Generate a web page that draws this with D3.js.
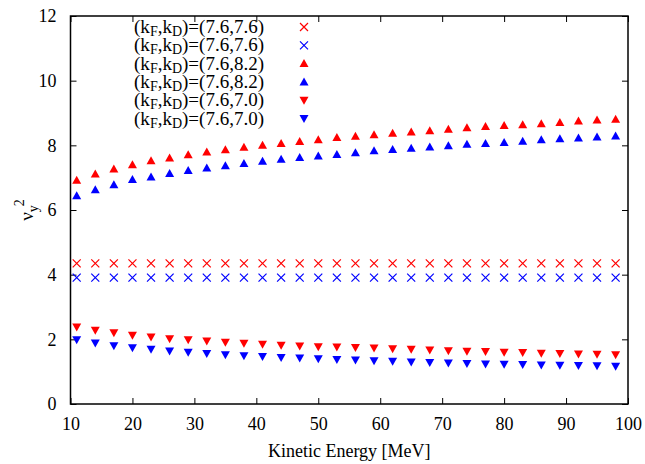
<!DOCTYPE html>
<html>
<head>
<meta charset="utf-8">
<script src="https://cdn.jsdelivr.net/npm/d3@7"></script>
<style>
  body { margin: 0; background: #fff; }
  svg text { font-family: "Liberation Serif", "DejaVu Serif", serif; fill: #000; }
</style>
</head>
<body>
<div id="chart"></div>
<script>
// kinetic energy samples [MeV]
const energy = [11, 14, 17, 20, 23, 26, 29, 32, 35, 38, 41, 44, 47, 50, 53,
                56, 59, 62, 65, 68, 71, 74, 77, 80, 83, 86, 89, 92, 95, 98];

const crossRed  = [4.35, 4.35, 4.35, 4.35, 4.35, 4.35, 4.35, 4.35, 4.35, 4.35, 4.35, 4.35, 4.35, 4.35, 4.35,
                   4.35, 4.35, 4.35, 4.35, 4.35, 4.35, 4.35, 4.35, 4.35, 4.35, 4.35, 4.35, 4.35, 4.35, 4.35];
const crossBlue = [3.91, 3.91, 3.91, 3.91, 3.91, 3.91, 3.91, 3.91, 3.91, 3.91, 3.91, 3.91, 3.91, 3.91, 3.91,
                   3.91, 3.91, 3.91, 3.91, 3.91, 3.91, 3.91, 3.91, 3.91, 3.91, 3.91, 3.91, 3.91, 3.91, 3.91];
const upRed  = [6.92, 7.11, 7.27, 7.40, 7.52, 7.61, 7.71, 7.79, 7.86, 7.94, 8.00, 8.06, 8.12, 8.17, 8.24,
                8.28, 8.33, 8.37, 8.41, 8.45, 8.50, 8.54, 8.58, 8.61, 8.64, 8.67, 8.71, 8.75, 8.78, 8.81];
const upBlue = [6.44, 6.63, 6.78, 6.94, 7.02, 7.13, 7.22, 7.30, 7.37, 7.44, 7.51, 7.57, 7.62, 7.67, 7.72,
                7.77, 7.83, 7.87, 7.91, 7.95, 7.99, 8.03, 8.06, 8.09, 8.13, 8.17, 8.20, 8.23, 8.26, 8.29];
const downRed  = [2.38, 2.28, 2.20, 2.13, 2.07, 2.02, 1.99, 1.95, 1.91, 1.88, 1.85, 1.82, 1.79, 1.77, 1.76,
                  1.75, 1.73, 1.71, 1.69, 1.67, 1.65, 1.63, 1.62, 1.60, 1.59, 1.57, 1.56, 1.55, 1.54, 1.52];
const downBlue = [1.99, 1.89, 1.80, 1.74, 1.69, 1.64, 1.60, 1.56, 1.52, 1.49, 1.47, 1.44, 1.42, 1.40, 1.38,
                  1.36, 1.34, 1.32, 1.30, 1.28, 1.27, 1.25, 1.24, 1.23, 1.22, 1.21, 1.20, 1.19, 1.18, 1.17];

const legendLabels = ["(7.6,7.6)", "(7.6,7.6)", "(7.6,8.2)", "(7.6,8.2)", "(7.6,7.0)", "(7.6,7.0)"];
const xTicks = [10, 20, 30, 40, 50, 60, 70, 80, 90, 100];
const yTicks = [0, 2, 4, 6, 8, 10, 12];

const series = [
    { values: crossRed,  color: "#ff0000", shape: "cross" },
    { values: crossBlue, color: "#0000ff", shape: "cross" },
    { values: upRed,     color: "#ff0000", shape: "up" },
    { values: upBlue,    color: "#0000ff", shape: "up" },
    { values: downRed,   color: "#ff0000", shape: "down" },
    { values: downBlue,  color: "#0000ff", shape: "down" }
];

const width = 645, height = 464;
const margin = { left: 70.5, right: 17, top: 16, bottom: 60 };
const serif = "Liberation Serif";

const svg = d3.select("#chart").append("svg")
    .attr("width", width).attr("height", height);

const x = d3.scaleLinear().domain([10, 100]).range([margin.left, width - margin.right]);
const y = d3.scaleLinear().domain([0, 12]).range([height - margin.bottom, margin.top]);

// ticks, mirrored inward on all four sides
const tickLen = 6;
const axes = svg.append("g");
axes.append("g").attr("transform", `translate(0,${y(0)})`)
    .call(d3.axisBottom(x).tickValues(xTicks).tickSizeInner(-tickLen).tickSizeOuter(0).tickPadding(13));
axes.append("g").attr("transform", `translate(0,${y(12)})`)
    .call(d3.axisTop(x).tickValues(xTicks).tickSizeInner(-tickLen).tickSizeOuter(0).tickFormat(""));
axes.append("g").attr("transform", `translate(${x(10)},0)`)
    .call(d3.axisLeft(y).tickValues(yTicks).tickSizeInner(-tickLen).tickSizeOuter(0).tickPadding(14));
axes.append("g").attr("transform", `translate(${x(100)},0)`)
    .call(d3.axisRight(y).tickValues(yTicks).tickSizeInner(-tickLen).tickSizeOuter(0).tickFormat(""));
axes.selectAll("g").attr("font-family", serif).attr("font-size", 18);
axes.selectAll(".domain").remove();
axes.selectAll(".tick line").attr("stroke", "#000").attr("stroke-width", 1);
axes.selectAll(".tick text").attr("font-family", serif).attr("fill", "#000");

svg.append("rect")
    .attr("x", x(10)).attr("y", y(12))
    .attr("width", x(100) - x(10)).attr("height", y(0) - y(12))
    .attr("fill", "none").attr("stroke", "#000").attr("stroke-width", 1.5);

// marker shapes
function marker(sel, shape, color) {
    if (shape === "cross") {
        sel.append("path").attr("d", "M-4,-4L4,4M-4,4L4,-4")
            .attr("stroke", color).attr("stroke-width", 1.2).attr("fill", "none");
    } else if (shape === "up") {
        sel.append("path").attr("d", "M0,-4.5L4.5,3.5L-4.5,3.5Z").attr("fill", color);
    } else {
        sel.append("path").attr("d", "M0,4.5L4.5,-3.5L-4.5,-3.5Z").attr("fill", color);
    }
}

const plot = svg.append("g");
series.forEach(s => {
    plot.append("g").selectAll("g")
        .data(energy.map((e, i) => [e, s.values[i]]))
        .join("g")
        .attr("transform", d => `translate(${x(d[0])},${y(d[1])})`)
        .each(function () { marker(d3.select(this), s.shape, s.color); });
});

// legend
const legend = svg.append("g").attr("font-family", serif);
series.forEach((s, i) => {
    const ly = 27 + i * 18.3;
    const t = legend.append("text")
        .attr("x", 264).attr("y", ly + 6)
        .attr("text-anchor", "end")
        .attr("font-size", 19);
    t.append("tspan").text("(k");
    t.append("tspan").attr("dy", 3).attr("font-size", 14).text("F");
    t.append("tspan").attr("dy", -3).text(",k");
    t.append("tspan").attr("dy", 3).attr("font-size", 14).text("D");
    t.append("tspan").attr("dy", -3).text(")=" + legendLabels[i]);
    const g = legend.append("g").attr("transform", `translate(304,${ly})`);
    marker(g, s.shape, s.color);
});

// axis labels
svg.append("text")
    .attr("x", (x(10) + x(100)) / 2).attr("y", 457)
    .attr("text-anchor", "middle")
    .attr("font-family", serif)
    .attr("font-size", 18)
    .text("Kinetic Energy [MeV]");

const yl = svg.append("text")
    .attr("transform", `translate(33,${y(6)}) rotate(-90)`)
    .attr("text-anchor", "middle")
    .attr("font-family", serif)
    .attr("font-size", 19);
yl.append("tspan").text("ν");
yl.append("tspan").attr("dy", 5).attr("font-size", 14).text("y");
yl.append("tspan").attr("dy", -14).attr("dx", -1).attr("font-size", 14).text("2");
</script>
</body>
</html>
